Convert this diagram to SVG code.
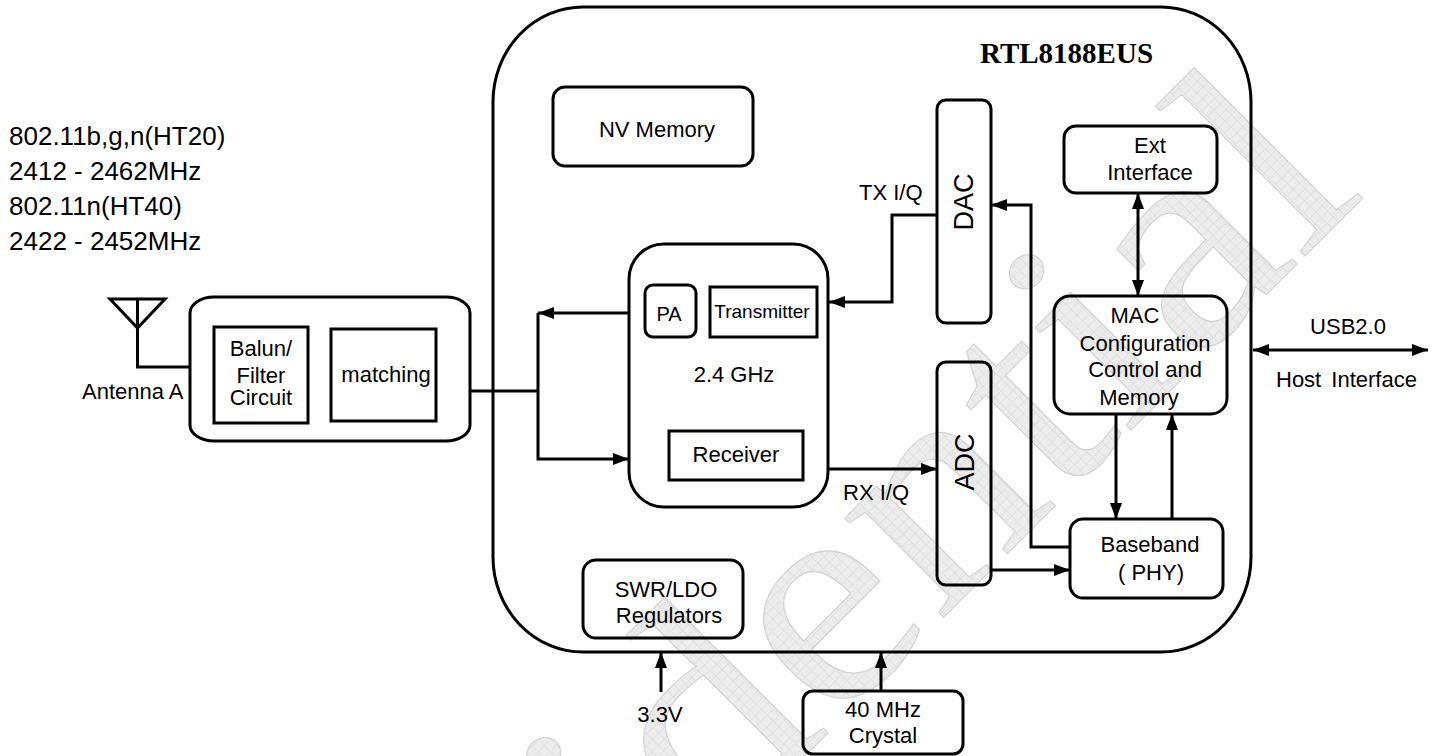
<svg xmlns="http://www.w3.org/2000/svg" width="1441" height="756" viewBox="0 0 1441 756">
<style>
.box{fill:none;stroke:#000;stroke-width:3}
.ln{fill:none;stroke:#000;stroke-width:3}
.t{font-family:"Liberation Sans",Arial,sans-serif;font-size:22px;fill:#000}
.c{text-anchor:middle}
.wm{font-family:"Liberation Serif","Times New Roman",serif;font-size:305px;fill:url(#hatch);stroke:#d4d4d4;stroke-width:1.2}
</style>
<defs>
<pattern id="hatch" patternUnits="userSpaceOnUse" width="8" height="8">
<rect width="8" height="8" fill="#ececec"/>
<path d="M0,0 L8,0 M0,0 L0,8" stroke="#d9d9d9" stroke-width="1"/>
</pattern>
<marker id="ah" markerUnits="userSpaceOnUse" markerWidth="17" markerHeight="12" refX="16" refY="6" orient="auto-start-reverse">
<path d="M0,0 L16,6 L0,12 z" fill="#000"/>
</marker>
</defs>
<rect width="1441" height="756" fill="#fff"/>
<g id="watermark">
<text class="wm" transform="translate(160,1401) rotate(-45) scale(1.12,1)" x="0" y="0">Confidential</text>
</g>
<g id="spec">
<text class="t" style="font-size:26px" x="9" y="145">802.11b,g,n(HT20)</text>
<text class="t" style="font-size:26px" x="9" y="180">2412 - 2462MHz</text>
<text class="t" style="font-size:26px" x="9" y="215">802.11n(HT40)</text>
<text class="t" style="font-size:26px" x="9" y="250">2422 - 2452MHz</text>
</g>
<g id="antenna">
<path class="ln" d="M110,299 L165,299 L137.5,328 Z M137.5,299 L137.5,367 L190,367"/>
<text class="t" x="82" y="399">Antenna A</text>
</g>
<g id="frontend">
<rect class="box" x="190" y="297" width="280" height="144" rx="24" ry="16"/>
<rect class="box" x="214" y="327" width="94" height="96"/>
<text class="t c" x="261" y="356">Balun/</text>
<text class="t c" x="261" y="383">Filter</text>
<text class="t c" x="261" y="405">Circuit</text>
<rect class="box" x="331" y="329" width="105" height="92"/>
<text class="t c" x="386" y="382">matching</text>
</g>
<g id="chip">
<rect class="box" x="493" y="7" width="758" height="645" rx="90" ry="95"/>
<text x="980" y="63" style="font-family:'Liberation Serif','Times New Roman',serif;font-size:29px;font-weight:bold">RTL8188EUS</text>
</g>
<g id="nvmem">
<rect class="box" x="553" y="87" width="200" height="79" rx="12"/>
<text class="t c" x="657" y="137">NV Memory</text>
</g>
<g id="rf">
<rect class="box" x="629" y="244" width="199" height="263" rx="35"/>
<rect class="box" x="645" y="285" width="51" height="52" rx="8"/>
<text class="t c" style="font-size:20px" x="669" y="321">PA</text>
<rect class="box" x="710" y="287" width="107" height="50"/>
<text class="t c" style="font-size:19px" x="762" y="318">Transmitter</text>
<text class="t c" x="734" y="382">2.4 GHz</text>
<rect class="box" x="669" y="431" width="134" height="49"/>
<text class="t c" x="736" y="462">Receiver</text>
</g>
<g id="dac">
<rect class="box" x="937" y="100" width="54" height="223" rx="9"/>
<text class="t c" style="font-size:27px" transform="translate(973,202) rotate(-90)">DAC</text>
</g>
<g id="adc">
<rect class="box" x="937" y="362" width="54" height="223" rx="9"/>
<text class="t c" style="font-size:27px" transform="translate(974,462) rotate(-90)">ADC</text>
</g>
<g id="ext">
<rect class="box" x="1064" y="126" width="153" height="67" rx="12"/>
<text class="t c" x="1150" y="153">Ext</text>
<text class="t c" x="1150" y="180">Interface</text>
</g>
<g id="mac">
<rect class="box" x="1054" y="296" width="173" height="118" rx="16"/>
<text class="t c" x="1135" y="323">MAC</text>
<text class="t c" x="1145" y="351">Configuration</text>
<text class="t c" x="1145" y="377">Control and</text>
<text class="t c" x="1139" y="405">Memory</text>
</g>
<g id="baseband">
<rect class="box" x="1070" y="519" width="153" height="79" rx="13"/>
<text class="t c" x="1150" y="552">Baseband</text>
<text class="t c" x="1151" y="580">( PHY)</text>
</g>
<g id="swr">
<rect class="box" x="583" y="560" width="160" height="78" rx="13"/>
<text class="t c" x="666" y="597">SWR/LDO</text>
<text class="t c" x="669" y="623">Regulators</text>
</g>
<g id="crystal">
<rect class="box" x="803" y="691" width="160" height="63" rx="10"/>
<text class="t c" x="883" y="717">40 MHz</text>
<text class="t c" x="883" y="743">Crystal</text>
</g>
<g id="connectors">
<path class="ln" d="M470,391 L538,391"/>
<path class="ln" d="M629,313 L538,313" marker-end="url(#ah)"/>
<path class="ln" d="M538,313 L538,459 L629,459" marker-end="url(#ah)"/>
<path class="ln" d="M937,215 L892,215 L892,302 L829,302" marker-end="url(#ah)"/>
<path class="ln" d="M828,469 L937,469" marker-end="url(#ah)"/>
<path class="ln" d="M991,570 L1070,570" marker-end="url(#ah)"/>
<path class="ln" d="M1070,547 L1031,547 L1031,205 L991,205" marker-end="url(#ah)"/>
<path class="ln" d="M1138,193 L1138,296" marker-start="url(#ah)" marker-end="url(#ah)"/>
<path class="ln" d="M1116,414 L1116,519" marker-end="url(#ah)"/>
<path class="ln" d="M1172,519 L1172,414" marker-end="url(#ah)"/>
<path class="ln" d="M1253,350 L1428,350" marker-start="url(#ah)" marker-end="url(#ah)"/>
<path class="ln" d="M661,692 L661,652" marker-end="url(#ah)"/>
<path class="ln" d="M881,691 L881,652" marker-end="url(#ah)"/>
<text class="t" x="859" y="200">TX I/Q</text>
<text class="t" x="843" y="500">RX I/Q</text>
<text class="t c" x="1348" y="334">USB2.0</text>
<text class="t" x="1276" y="387" style="word-spacing:4px">Host Interface</text>
<text class="t c" x="660" y="722">3.3V</text>
</g>
</svg>
